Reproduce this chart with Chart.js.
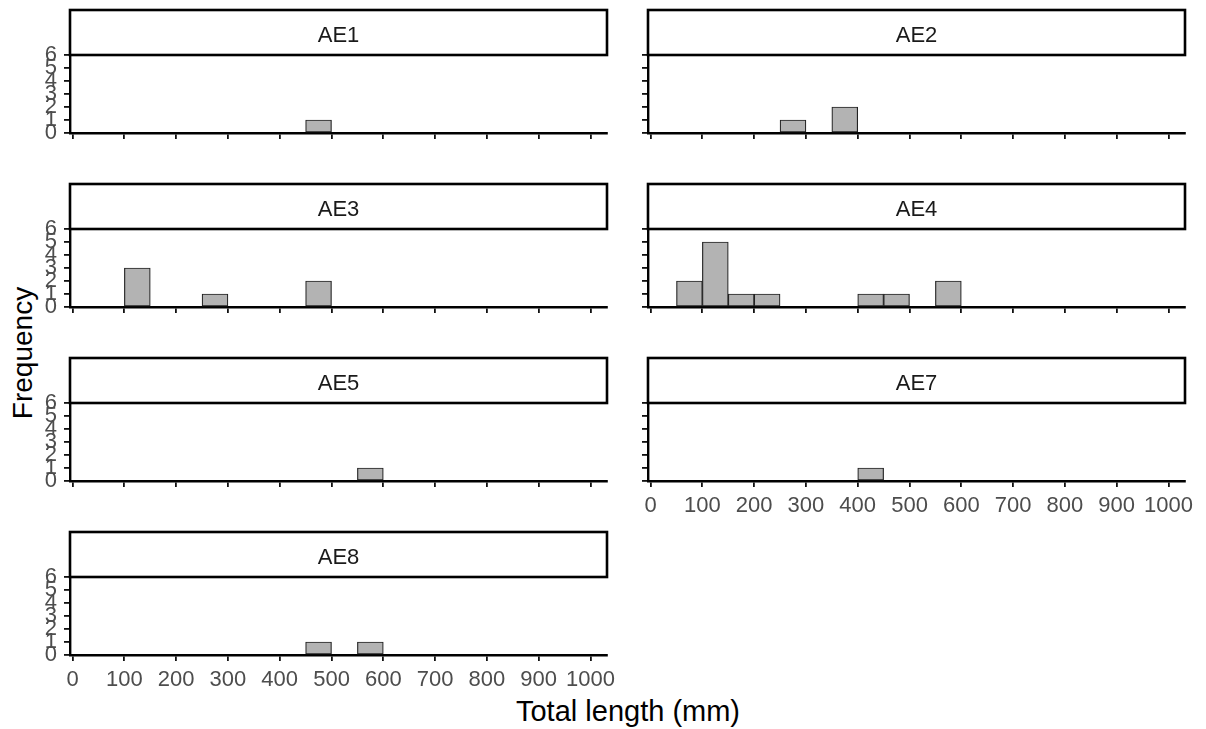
<!DOCTYPE html>
<html>
<head>
<meta charset="utf-8">
<script src="https://cdn.jsdelivr.net/npm/chart.js@4.4.1/dist/chart.umd.min.js"></script>
<style>
  body { margin:0; background:#fff; width:1206px; height:729px; position:relative; overflow:hidden;
         font-family:"Liberation Sans", Arial, sans-serif; }
  .panel { position:absolute; }
  .ytitle { position:absolute; left:23px; top:353px; transform:translate(-50%,-50%) rotate(-90deg);
            font-size:28px; white-space:nowrap; color:#000; }
  .xtitle { position:absolute; left:628px; top:711px; transform:translate(-50%,-50%);
            font-size:29px; white-space:nowrap; color:#000; }
</style>
</head>
<body>
<div class="ytitle">Frequency</div>
<div class="xtitle">Total length (mm)</div>
<script>
// ------------------------------------------------------------
// Datos: histogramas por sitio (bins de 50 mm, 0-1000)
// ------------------------------------------------------------
const binCenters = [25, 75, 125, 175, 225, 275, 325, 375, 425, 475,
                    525, 575, 625, 675, 725, 775, 825, 875, 925, 975];
const countsAE1 = [0, 0, 0, 0, 0, 0, 0, 0, 0, 1, 0, 0, 0, 0, 0, 0, 0, 0, 0, 0];
const countsAE2 = [0, 0, 0, 0, 0, 1, 0, 2, 0, 0, 0, 0, 0, 0, 0, 0, 0, 0, 0, 0];
const countsAE3 = [0, 0, 3, 0, 0, 1, 0, 0, 0, 2, 0, 0, 0, 0, 0, 0, 0, 0, 0, 0];
const countsAE4 = [0, 2, 5, 1, 1, 0, 0, 0, 1, 1, 0, 2, 0, 0, 0, 0, 0, 0, 0, 0];
const countsAE5 = [0, 0, 0, 0, 0, 0, 0, 0, 0, 0, 0, 1, 0, 0, 0, 0, 0, 0, 0, 0];
const countsAE7 = [0, 0, 0, 0, 0, 0, 0, 0, 1, 0, 0, 0, 0, 0, 0, 0, 0, 0, 0, 0];
const countsAE8 = [0, 0, 0, 0, 0, 0, 0, 0, 0, 1, 0, 1, 0, 0, 0, 0, 0, 0, 0, 0];
const xTickValues = [0, 100, 200, 300, 400, 500, 600, 700, 800, 900, 1000];
const yTickValues = [0, 1, 2, 3, 4, 5, 6];
const BIN_WIDTH = 50;

// Paneles (facetas)
const panels = [
    { label: 'AE1', counts: countsAE1, col: 0, row: 0, xLabels: false },
    { label: 'AE2', counts: countsAE2, col: 1, row: 0, xLabels: false },
    { label: 'AE3', counts: countsAE3, col: 0, row: 1, xLabels: false },
    { label: 'AE4', counts: countsAE4, col: 1, row: 1, xLabels: false },
    { label: 'AE5', counts: countsAE5, col: 0, row: 2, xLabels: false },
    { label: 'AE7', counts: countsAE7, col: 1, row: 2, xLabels: true },
    { label: 'AE8', counts: countsAE8, col: 0, row: 3, xLabels: true }
];

// ------------------------------------------------------------
// Geometría de la rejilla
// ------------------------------------------------------------
const X_MIN = -5, X_MAX = 1032;
const STRIP_TOP = [10, 184, 358, 532];
const PLOT_TOP = [55, 229, 403, 577];
const PLOT_BOTTOM = [133, 307, 481, 655];
const COL_LEFT = [70, 648];
const COL_RIGHT = [607, 1185];
const CANVAS_LEFT = [0, 615];
const CANVAS_RIGHT = [615, 1206];
const CANVAS_PAD_TOP = 4;
const X_AXIS_H = 45;
const FONT = '"Liberation Sans", Arial, sans-serif';

// Caja de título del panel (strip)
const stripPlugin = {
    id: 'strip',
    afterDraw(chart, args, opts) {
        const { ctx, chartArea: a } = chart;
        const t = opts.top;
        ctx.save();
        ctx.fillStyle = '#fff';
        ctx.fillRect(a.left, t, a.right - a.left, a.top - t);
        ctx.strokeStyle = '#000';
        ctx.lineWidth = 2.6;
        ctx.strokeRect(a.left, t, a.right - a.left, a.top - t);
        ctx.fillStyle = '#1a1a1a';
        ctx.font = '22px ' + FONT;
        ctx.textAlign = 'center';
        ctx.textBaseline = 'middle';
        ctx.fillText(opts.label, (a.left + a.right) / 2, t + 26);
        ctx.restore();
    }
};

panels.forEach(p => {
    const top = STRIP_TOP[p.row] - CANVAS_PAD_TOP;
    const left = CANVAS_LEFT[p.col];
    const w = CANVAS_RIGHT[p.col] - left;
    const h = PLOT_BOTTOM[p.row] - top + X_AXIS_H;

    const div = document.createElement('div');
    div.className = 'panel';
    div.style.left = left + 'px';
    div.style.top = top + 'px';
    div.style.width = w + 'px';
    div.style.height = h + 'px';
    const canvas = document.createElement('canvas');
    canvas.width = w;
    canvas.height = h;
    div.appendChild(canvas);
    document.body.appendChild(div);

    const plotW = COL_RIGHT[p.col] - COL_LEFT[p.col];
    const barPx = BIN_WIDTH * plotW / (X_MAX - X_MIN);

    new Chart(canvas.getContext('2d'), {
        type: 'bar',
        data: {
            datasets: [{
                data: binCenters.map((c, i) => ({ x: c, y: p.counts[i] })),
                backgroundColor: '#b3b3b3',
                borderColor: '#222',
                borderWidth: 1.2,
                borderSkipped: false,
                barThickness: barPx
            }]
        },
        options: {
            responsive: false,
            animation: false,
            devicePixelRatio: 1,
            layout: {
                padding: {
                    left: 0,
                    right: CANVAS_RIGHT[p.col] - COL_RIGHT[p.col],
                    top: PLOT_TOP[p.row] - top,
                    bottom: 0
                }
            },
            plugins: {
                legend: { display: false },
                tooltip: { enabled: false },
                strip: { label: p.label, top: CANVAS_PAD_TOP }
            },
            scales: {
                x: {
                    type: 'linear',
                    offset: false,
                    min: X_MIN,
                    max: X_MAX,
                    afterBuildTicks: s => { s.ticks = xTickValues.map(v => ({ value: v })); },
                    afterFit: s => { s.height = X_AXIS_H; s.paddingLeft = 0; s.paddingRight = 0; },
                    ticks: {
                        autoSkip: false,
                        maxRotation: 0,
                        color: '#4d4d4d',
                        font: { size: 22, family: FONT },
                        padding: 6,
                        callback: v => p.xLabels ? String(v) : ''
                    },
                    grid: { offset: false, drawOnChartArea: false, drawTicks: true, tickLength: 6, color: '#111', lineWidth: 1.8 },
                    border: { display: true, color: '#000', width: 2.4 }
                },
                y: {
                    type: 'linear',
                    min: 0,
                    max: 6,
                    afterBuildTicks: s => { s.ticks = yTickValues.map(v => ({ value: v })); },
                    afterFit: s => { s.width = COL_LEFT[p.col] - CANVAS_LEFT[p.col]; s.paddingTop = 0; s.paddingBottom = 0; },
                    ticks: {
                        autoSkip: false,
                        color: '#4d4d4d',
                        font: { size: 22, family: FONT },
                        padding: 7,
                        callback: v => p.col === 0 ? String(v) : ''
                    },
                    grid: { drawOnChartArea: false, drawTicks: true, tickLength: 6, color: '#111', lineWidth: 1.8 },
                    border: { display: true, color: '#000', width: 2.4 }
                }
            }
        },
        plugins: [stripPlugin]
    });
});
</script>
</body>
</html>
